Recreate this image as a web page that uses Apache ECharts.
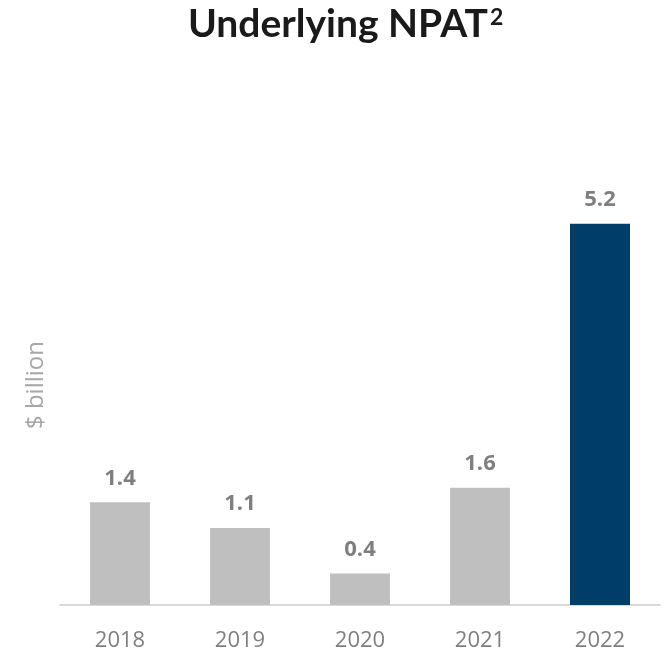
<!DOCTYPE html>
<html><head><meta charset="utf-8">
<script src="https://cdn.jsdelivr.net/npm/echarts@6/dist/echarts.min.js"></script>
<style>html,body{margin:0;padding:0;background:#fff}#c{width:669px;height:654px}</style>
</head><body><div id="c"></div>
<script>
const categories = ['2018', '2019', '2020', '2021', '2022'];
const values = [1.4, 1.05, 0.43, 1.6, 5.2];
const valueLabels = ['1.4', '1.1', '0.4', '1.6', '5.2'];
const barColors = ['#bfbfbf', '#bfbfbf', '#bfbfbf', '#bfbfbf', '#003d68'];

const chart = echarts.init(document.getElementById('c'));
chart.setOption({
  animation: false,
  title: {
    text: '{m|Underlying NPAT}{s|2}',
    left: 183, top: 0,
    textStyle: {
      rich: {
        m: { fontFamily: 'Lato', fontWeight: 'bold', fontSize: 39, color: '#1a1a1a' },
        s: { fontFamily: 'Lato', fontWeight: 'bold', fontSize: 23, color: '#1a1a1a', padding: [0, 0, 13, 2] }
      }
    }
  },
  grid: { left: 60, right: 9, top: 165, bottom: 49 },
  xAxis: {
    type: 'category', data: categories,
    axisLine: { lineStyle: { color: '#d9d9d9', width: 2 } },
    axisTick: { show: false },
    axisLabel: { fontFamily: 'Open Sans', fontSize: 22, color: '#7f7f7f', margin: 25 }
  },
  yAxis: {
    type: 'value', min: 0, max: 6,
    name: '$ billion', nameLocation: 'middle', nameGap: 12,
    nameTextStyle: { fontFamily: 'Open Sans', fontSize: 24, color: '#a6a6a6' },
    axisLine: { show: false }, axisTick: { show: false },
    axisLabel: { show: false }, splitLine: { show: false }
  },
  series: [{
    type: 'bar', barWidth: 60,
    data: values.map((v, i) => ({ value: v, itemStyle: { color: barColors[i] } })),
    label: {
      show: true, position: 'top', distance: 13,
      formatter: p => valueLabels[p.dataIndex],
      fontFamily: 'Open Sans', fontWeight: 'bold', fontSize: 22, color: '#7f7f7f'
    }
  }]
});
</script></body></html>
